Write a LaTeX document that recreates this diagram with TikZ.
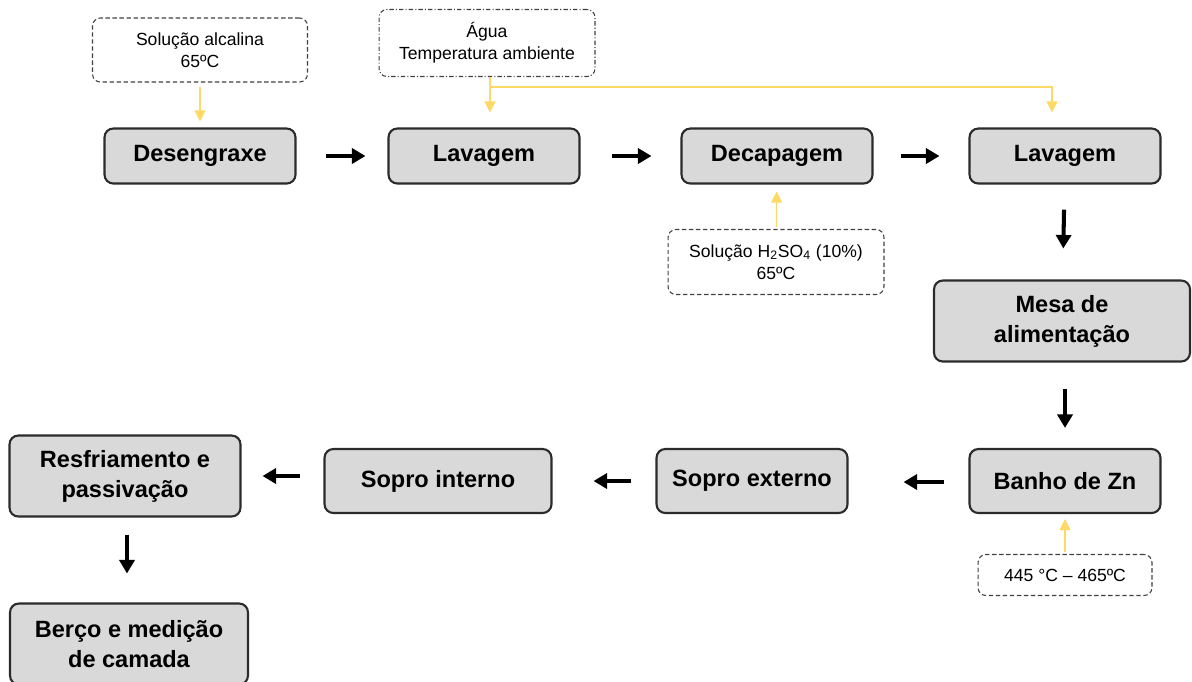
\documentclass[tikz,border=0pt]{standalone}
\usepackage{fontspec}
\setmainfont{Liberation Sans}
\usetikzlibrary{positioning, arrows.meta}
\definecolor{galvgray}{HTML}{D9D9D9}
\definecolor{galvedge}{HTML}{2B2B2B}
\definecolor{galvgold}{HTML}{FFD966}

\begin{document}
\begin{tikzpicture}[
    x=0.02cm, y=-0.02cm,
    proc/.style={draw=galvedge, fill=galvgray, line width=1.2pt, rounded corners=5pt,
      align=center, font=\fontsize{13.4}{17}\selectfont\bfseries,
      minimum width=3.82cm, minimum height=1.1cm},
    note/.style={draw=galvedge!90, line width=0.6pt, dash pattern=on 2.5pt off 1.5pt,
      rounded corners=4.5pt, align=center, font=\fontsize{10}{12.5}\selectfont},
    flow/.style={line width=2.3pt, -{Triangle[length=2.7mm, width=3mm]}},
    feed/.style={draw=galvgold, line width=0.7pt, -{Triangle[length=2.2mm, width=2.2mm]}},
  ]
  \useasboundingbox (0,0) rectangle (1192,681);

  % ----- top row -----
  \node[proc] (desen) at (200,156) {Desengraxe};
  \node[proc] (lav1) at (484,156) {Lavagem};
  \node[proc] (decap) at (777,156) {Decapagem};
  \node[proc] (lav2) at (1065,156) {Lavagem};

  % ----- right column -----
  \node[proc, minimum width=5.12cm, minimum height=1.62cm] (mesa) at (1062,321) {Mesa de\\alimentação};
  \node[proc, minimum height=1.28cm] (banho) at (1065,481) {Banho de Zn};

  % ----- bottom row -----
  \node[proc, minimum height=1.28cm] (sext) at (752,481) {Sopro externo};
  \node[proc, minimum width=4.54cm, minimum height=1.28cm] (sint) at (438,481) {Sopro interno};
  \node[proc, minimum width=4.62cm, minimum height=1.62cm] (resf) at (125,476) {Resfriamento e\\passivação};
  \node[proc, minimum width=4.76cm, minimum height=1.62cm] (berco) at (129,644) {Berço e medição\\de camada};

  % ----- inputs -----
  \node[note, minimum width=4.3cm, minimum height=1.28cm] (alcal) at (200,50) {Solução alcalina\\65ºC};
  \node[note, dash pattern=on 2.5pt off 1.2pt on 0.6pt off 1.2pt,
    minimum width=4.32cm, minimum height=1.34cm] (agua) at (487,43) {Água\\Temperatura ambiente};
  \node[note, minimum width=4.32cm, minimum height=1.3cm] (acido) at (776,262)
    {Solução H\textsubscript{2}SO\textsubscript{4} (10\%)\\65ºC};
  \node[note, minimum width=3.48cm, minimum height=0.82cm] (temp) at (1065,575) {445 °C – 465ºC};
  \coordinate (split) at (490,87);

  % ----- process flow -----
  \draw[flow, shorten <=0.58cm, shorten >=0.44cm] (desen) -- (lav1);
  \draw[flow, shorten <=0.62cm, shorten >=0.58cm] (lav1) -- (decap);
  \draw[flow, shorten <=0.54cm, shorten >=0.58cm] (decap) -- (lav2);
  \draw[flow, shorten <=0.5cm, shorten >=0.62cm] (lav2) -- (mesa);
  \draw[flow, shorten <=0.52cm, shorten >=0.4cm] (mesa.south -| banho) -- (banho);
  \draw[flow, shorten <=0.48cm, shorten >=1.1cm] (banho.west |- 0,482) -- (sext.east |- 0,482);
  \draw[flow, shorten <=0.48cm, shorten >=0.82cm] (sext) -- (sint);
  \draw[flow, shorten <=0.46cm, shorten >=0.42cm] (sint.west |- resf) -- (resf);
  \draw[flow, shorten <=0.34cm, shorten >=0.58cm] (resf.south -| 127,0) -- (berco.north -| 127,0);

  % ----- inputs to the baths -----
  \draw[feed, shorten <=0.08cm, shorten >=0.12cm] (alcal) -- (desen);
  \draw[feed, shorten >=0.3cm] (agua.south -| split) -- (lav1.north -| split);
  \draw[feed, shorten >=0.3cm] (split) -| (lav2.north -| 1052,0);
  \draw[feed, shorten <=0.04cm, shorten >=0.14cm] (acido) -- (decap);
  \draw[feed, shorten <=0.04cm, shorten >=0.1cm] (temp) -- (banho);

\end{tikzpicture}
\end{document}
